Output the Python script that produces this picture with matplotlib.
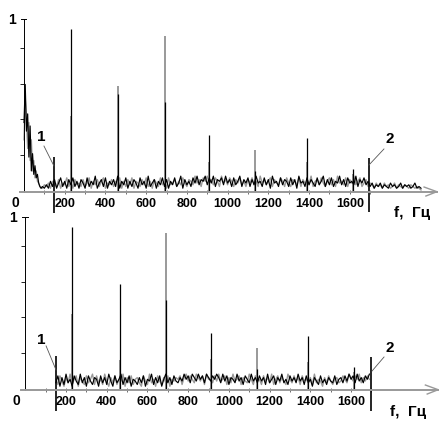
import numpy as np
import matplotlib.pyplot as plt

plt.rcParams['font.family'] = ['Liberation Sans', 'DejaVu Sans']

# --- данные (амплитуды в сотых долях) ---
# низкочастотный всплеск, верхний график, 0..84 Гц шаг 6 Гц
top_burst_black = [40, 62, 35, 45, 20, 38, 12, 22, 10, 15, 8, 10, 5, 3, 2]
top_burst_gray = [30, 54, 42, 25, 40, 18, 30, 12, 18, 8, 12, 6, 5, 3, 2]

# шум, верхний график, 90..1950 Гц шаг 10 Гц
top_noise_black = [
    3, 2, 4, 2, 6, 3, 7, 2, 5, 8, 3, 6, 2, 7, 4, 8, 3, 6, 2, 7,
    5, 2, 8, 3, 6, 4, 9, 2, 5, 7, 3, 8, 2, 6, 4, 7, 3, 9, 2, 6,
    4, 8, 2, 6, 3, 7, 5, 2, 8, 4, 6, 2, 9, 3, 5, 7, 2, 6, 4, 8,
    3, 7, 2, 6, 4, 8, 3, 5, 9, 2, 7, 4, 6, 3, 8, 5, 9, 4, 7, 6,
    9, 4, 8, 5, 9, 3, 7, 6, 8, 4, 9, 5, 7, 3, 8, 4, 6, 9, 3, 7,
    5, 8, 3, 7, 4, 9, 5, 6, 3, 8, 4, 7, 2, 9, 5, 6, 3, 8, 4, 7,
    6, 3, 8, 4, 7, 2, 9, 5, 6, 3, 8, 4, 7, 5, 3, 8, 4, 6, 9, 3,
    7, 4, 8, 3, 6, 5, 9, 4, 7, 3, 8, 5, 6, 4, 9, 3, 7, 5, 8, 4,
    6, 3, 5, 2, 4, 3, 5, 2, 4, 3, 2, 5, 3, 4, 2, 3, 5, 2, 4, 3,
    4, 2, 3, 5, 2, 3, 2]
top_noise_gray = [
    2, 4, 3, 5, 2, 6, 4, 3, 7, 2, 5, 4, 8, 3, 6, 2, 7, 4, 5, 3,
    7, 3, 5, 8, 2, 6, 4, 7, 3, 6, 8, 2, 5, 4, 7, 3, 6, 5, 8, 2,
    6, 3, 7, 4, 8, 2, 6, 5, 3, 7, 4, 8, 3, 6, 2, 7, 5, 3, 8, 4,
    6, 2, 8, 4, 5, 7, 3, 6, 4, 8, 5, 3, 7, 6, 4, 9, 5, 7, 3, 8,
    6, 9, 5, 7, 4, 8, 6, 3, 9, 5, 7, 4, 8, 6, 3, 7, 5, 8, 4, 6,
    3, 7, 5, 8, 4, 6, 3, 9, 5, 7, 4, 6, 8, 3, 7, 5, 4, 8, 6, 3,
    8, 5, 3, 7, 6, 4, 8, 3, 7, 5, 6, 4, 9, 3, 6, 7, 4, 8, 5, 3,
    6, 8, 4, 7, 3, 9, 5, 6, 4, 8, 3, 7, 5, 9, 4, 6, 8, 3, 5, 7,
    3, 5, 4, 2, 5, 3, 4, 2, 5, 3, 4, 2, 3, 5, 2, 4, 3, 2, 4, 3,
    2, 4, 3, 2, 3, 2, 1]

# шум, нижний график, 150..1690 Гц шаг 10 Гц
bot_noise_black = [
    4, 8, 2, 7, 3, 9, 4, 6, 2, 8, 5, 3, 9, 4, 7, 2, 8, 5, 3, 7,
    6, 2, 8, 4, 7, 3, 9, 5, 2, 8, 4, 6, 9, 3, 7, 4, 8, 2, 6, 5,
    3, 7, 4, 8, 2, 6, 5, 9, 3, 7, 4, 8, 2, 6, 9, 4, 7, 3, 8, 5,
    4, 7, 5, 9, 6, 8, 4, 9, 7, 5, 9, 6, 8, 4, 9, 7, 5, 8, 6, 9,
    7, 4, 9, 5, 8, 3, 7, 6, 4, 9, 5, 7, 3, 8, 6, 4, 9, 5, 7, 4,
    8, 5, 7, 3, 9, 4, 6, 8, 3, 7, 5, 9, 4, 6, 3, 8, 5, 7, 4, 9,
    5, 7, 3, 8, 4, 6, 2, 7, 5, 3, 8, 4, 6, 3, 7, 5, 4, 8, 3, 6,
    7, 4, 8, 5, 9, 6, 8, 4, 9, 5, 7, 4, 8, 6, 9]
bot_noise_gray = [
    6, 3, 8, 5, 2, 7, 4, 9, 3, 6, 8, 2, 7, 5, 3, 8, 4, 6, 9, 3,
    8, 4, 6, 3, 9, 5, 2, 7, 4, 8, 3, 6, 5, 9, 2, 7, 4, 8, 3, 6,
    7, 4, 2, 8, 5, 3, 9, 4, 6, 2, 8, 5, 3, 7, 4, 8, 2, 6, 5, 7,
    6, 8, 3, 7, 9, 5, 8, 6, 4, 9, 7, 5, 8, 3, 9, 6, 7, 4, 8, 5,
    9, 5, 6, 8, 3, 7, 4, 9, 5, 6, 8, 3, 7, 5, 4, 9, 6, 3, 8, 5,
    6, 3, 8, 5, 7, 4, 9, 3, 6, 8, 4, 7, 5, 3, 9, 6, 4, 8, 5, 7,
    3, 8, 5, 6, 4, 7, 3, 9, 4, 6, 5, 2, 7, 4, 8, 5, 3, 6, 7, 4,
    5, 8, 6, 4, 9, 7, 5, 8, 6, 9, 4, 7, 5, 8, 6]

# гармоники
top_peak_f = [229, 463, 692, 910, 1135, 1388, 1614]
top_peak_black = [0.94, 0.565, 0.52, 0.33, 0.12, 0.31, 0.13]
top_peak_gray = [0.44, 0.61, 0.90, 0.17, 0.24, 0.17, 0.10]
bot_peak_f = [231, 463, 692, 912, 1136, 1389, 1614]
bot_peak_black = [0.94, 0.61, 0.52, 0.33, 0.12, 0.31, 0.13]
bot_peak_gray = [0.44, 0.17, 0.905, 0.18, 0.24, 0.16, 0.10]

# границы полосы (метки 1 и 2), Гц
top_marks = [147, 1694]
bot_marks = [151, 1697]

major_ticks = [200, 400, 600, 800, 1000, 1200, 1400, 1600]
minor_ticks = [100, 300, 500, 700, 900, 1100, 1300, 1500, 1700]

GRAY = '#999999'

fig = plt.figure(figsize=(4.46, 4.35), dpi=100)
ax1 = fig.add_axes([0, 0.5, 1, 0.5])
ax2 = fig.add_axes([0, 0, 1, 235 / 435])
ax1.set_xlim(-117.9, 2072.7)
ax1.set_ylim(-0.1434, 1.114)
ax2.set_xlim(-124.3, 2066.3)
ax2.set_ylim(-0.256, 1.102)


def setup(ax):
    ax.set_facecolor('none')
    ax.spines['top'].set_visible(False)
    ax.spines['right'].set_visible(False)
    ax.spines['left'].set_position(('data', 0))
    ax.spines['left'].set_bounds(0, 1)
    ax.spines['left'].set_linewidth(0.7)
    ax.spines['bottom'].set_position(('data', 0))
    ax.spines['bottom'].set_bounds(-20, 2028)
    ax.spines['bottom'].set_color(GRAY)
    ax.spines['bottom'].set_linewidth(1.4)
    ax.set_xticks(major_ticks)
    ax.set_xticklabels([str(t) for t in major_ticks], fontsize=9, fontweight='bold')
    ax.set_xticks(minor_ticks, minor=True)
    ax.tick_params(axis='x', which='both', direction='inout', length=3,
                   width=0.6, color='#555555', pad=2.5)
    ax.set_yticks([0.21, 0.42, 0.62, 0.83])
    ax.set_yticklabels([])
    ax.tick_params(axis='y', direction='out', length=3, width=0.6)
    ax.plot([-14, 12], [1, 1], color='black', lw=0.7)
    # стрелка оси частот
    ax.plot([1965, 2028, 1974], [0.027, 0, -0.025], color=GRAY, lw=1.0,
            clip_on=False)
    ax.text(-60, 1.0, '1', fontsize=10, fontweight='bold', ha='center', va='center')
    ax.text(-44, -0.06, '0', fontsize=10, fontweight='bold', ha='center', va='center')


setup(ax1)
setup(ax2)

# верхний график
f_top = np.concatenate([np.arange(0, 85, 6), np.arange(90, 1951, 10)])
y_top_gray = np.array(top_burst_gray + top_noise_gray) / 100
y_top_black = np.array(top_burst_black + top_noise_black) / 100
ax1.plot(f_top, y_top_gray, color=GRAY, lw=1.0)
ax1.vlines(top_peak_f, 0, top_peak_gray, color=GRAY, lw=1.4)
ax1.plot(f_top, y_top_black, color='black', lw=0.85)
ax1.vlines(top_peak_f, 0, top_peak_black, color='black', lw=0.9)

# нижний график
f_bot = np.arange(150, 1691, 10)
ax2.plot(f_bot, np.array(bot_noise_gray) / 100, color=GRAY, lw=1.0)
ax2.vlines(bot_peak_f, 0, bot_peak_gray, color=GRAY, lw=1.4)
ax2.plot(f_bot, np.array(bot_noise_black) / 100, color='black', lw=0.85)
ax2.vlines(bot_peak_f, 0, bot_peak_black, color='black', lw=0.9)

# метки границ 1 и 2
ax1.vlines(top_marks, [-0.123, -0.118], [0.20, 0.195], color='black', lw=1.2, clip_on=False)
ax1.plot([98, 147], [0.264, 0.149], color='#555555', lw=0.6)
ax1.plot([1768, 1694], [0.247, 0.154], color='#555555', lw=0.6)
ax1.text(83, 0.32, '1', fontsize=11, fontweight='bold', ha='center', va='center')
ax1.text(1798, 0.31, '2', fontsize=11, fontweight='bold', ha='center', va='center')
ax1.text(1904, -0.119, 'f,  Гц', fontsize=11, fontweight='bold', ha='center', va='center')

ax2.vlines(bot_marks, [-0.125, -0.122], [0.193, 0.187], color='black', lw=1.2, clip_on=False)
ax2.plot([102, 151], [0.253, 0.114], color='#555555', lw=0.6)
ax2.plot([1762, 1703], [0.189, 0.108], color='#555555', lw=0.6)
ax2.text(76, 0.293, '1', fontsize=11, fontweight='bold', ha='center', va='center')
ax2.text(1791, 0.247, '2', fontsize=11, fontweight='bold', ha='center', va='center')
ax2.text(1880, -0.121, 'f,  Гц', fontsize=11, fontweight='bold', ha='center', va='center')

fig.savefig('out.png', dpi=100)
